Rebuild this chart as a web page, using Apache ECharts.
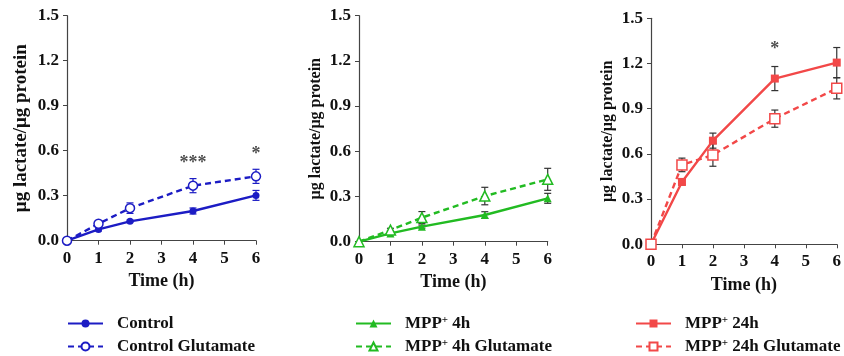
<!DOCTYPE html>
<html><head><meta charset="utf-8">
<script src="https://cdn.jsdelivr.net/npm/echarts@6/dist/echarts.min.js"></script>
<style>html,body{margin:0;padding:0;background:#fff}#c{width:844px;height:356px}</style>
</head><body><div id="c"></div>
<script>
const times = [0, 1, 2, 4, 6];
const yTicks = [0.0, 0.3, 0.6, 0.9, 1.2, 1.5];
const xTicks = [0, 1, 2, 3, 4, 5, 6];

const controlMean = [0, 0.075, 0.129, 0.198, 0.302];
const controlErr  = [0, 0.010, 0.008, 0.020, 0.033];
const controlGluMean = [0, 0.113, 0.217, 0.367, 0.429];
const controlGluErr  = [0, 0.020, 0.035, 0.047, 0.047];

const mpp4Mean = [0, 0.055, 0.100, 0.177, 0.288];
const mpp4Err  = [0, 0.008, 0.010, 0.022, 0.033];
const mpp4GluMean = [0, 0.077, 0.160, 0.303, 0.414];
const mpp4GluErr  = [0, 0.012, 0.040, 0.058, 0.073];

const mpp24Mean = [0, 0.414, 0.688, 1.100, 1.206];
const mpp24Err  = [0, 0.020, 0.050, 0.080, 0.100];
const mpp24GluMean = [0, 0.527, 0.593, 0.834, 1.035];
const mpp24GluErr  = [0, 0.045, 0.075, 0.057, 0.070];

const sig1 = [[4, 0.515, '***'], [6, 0.578, '*']];
const sig3 = [[4, 1.294, '*']];

const names = ['Control', 'Control Glutamate', 'MPP+ 4h', 'MPP+ 4h Glutamate', 'MPP+ 24h', 'MPP+ 24h Glutamate'];

const BLUE = '#1c1cc4', GREEN = '#22bb22', RED = '#f24848';
const FONT = 'Liberation Serif';

function pts(m) { return times.map((t, i) => [t, m[i]]); }
function errData(m, e) { return times.map((t, i) => [t, m[i] - e[i], m[i] + e[i]]).filter(d => d[2] - d[1] > 0); }

function errSeries(idx, m, e, color) {
  return {
    type: 'custom', xAxisIndex: idx, yAxisIndex: idx, z: 1, silent: true,
    data: errData(m, e),
    renderItem: function (params, api) {
      const x = api.value(0);
      const lo = api.coord([x, api.value(1)]);
      const hi = api.coord([x, api.value(2)]);
      const w = 3.5;
      const style = { stroke: color, lineWidth: 1.2 };
      return { type: 'group', children: [
        { type: 'line', shape: { x1: lo[0], y1: lo[1], x2: hi[0], y2: hi[1] }, style: style },
        { type: 'line', shape: { x1: lo[0] - w, y1: lo[1], x2: lo[0] + w, y2: lo[1] }, style: style },
        { type: 'line', shape: { x1: hi[0] - w, y1: hi[1], x2: hi[0] + w, y2: hi[1] }, style: style }
      ]};
    }
  };
}

function lineSeries(idx, name, m, color, symbol, size, hollow) {
  return {
    type: 'line', name: name, xAxisIndex: idx, yAxisIndex: idx, z: 3,
    data: pts(m), symbol: symbol, symbolSize: size, showSymbol: true,
    lineStyle: { color: color, width: 2.4, type: hollow ? [6, 4] : 'solid' },
    itemStyle: { color: hollow ? '#fff' : color, borderColor: color, borderWidth: hollow ? 1.5 : 0 },
    emphasis: { disabled: true }, animation: false
  };
}

function sigSeries(idx, arr) {
  return {
    type: 'scatter', xAxisIndex: idx, yAxisIndex: idx, symbolSize: 0, z: 4,
    data: arr.map(d => ({ value: [d[0], d[1]], label: { formatter: d[2] } })),
    label: { show: true, position: 'inside', color: '#222', fontFamily: FONT, fontSize: 18, fontWeight: 'bold' },
    animation: false
  };
}

const grids = [
  { left: 67, right: 588, top: 15.7, bottom: 115.3 },
  { left: 359, right: 296.3, top: 15.7, bottom: 114.3 },
  { left: 651, right: 4, top: 18.3, bottom: 111.7 }
];

const axisLine = { show: true, lineStyle: { color: '#444', width: 1.2 } };
const axisTick = { show: true, length: 4, lineStyle: { color: '#444' } };
const labelStyle = { color: '#111', fontFamily: FONT, fontWeight: 'bold', fontSize: 17 };

const xAxes = grids.map((g, i) => ({
  type: 'value', gridIndex: i, min: xTicks[0], max: xTicks[xTicks.length - 1], interval: 1,
  axisLine: axisLine, axisTick: axisTick, splitLine: { show: false },
  axisLabel: Object.assign({ margin: 9 }, labelStyle),
  name: 'Time (h)', nameLocation: 'middle', nameGap: 32,
  nameTextStyle: { color: '#111', fontFamily: FONT, fontWeight: 'bold', fontSize: 18 }
}));
const yAxes = grids.map((g, i) => ({
  type: 'value', gridIndex: i, min: yTicks[0], max: yTicks[yTicks.length - 1], interval: 0.3,
  axisLine: axisLine, axisTick: axisTick, splitLine: { show: false },
  axisLabel: Object.assign({ margin: 8, formatter: v => v.toFixed(1) }, labelStyle),
  name: 'μg lactate/μg protein', nameLocation: 'middle', nameGap: i === 0 ? 36 : 35, nameRotate: 90,
  nameTextStyle: { color: '#111', fontFamily: FONT, fontWeight: 'bold', fontSize: i === 0 ? 19 : 16 }
}));

function legendFmt(n) { return n.replace('MPP+', 'MPP{s|+}'); }
const legendText = {
  color: '#111', fontFamily: FONT, fontWeight: 'bold', fontSize: 17, lineHeight: 17,
  padding: [0, 0, 0, 9],
  rich: { s: { fontFamily: FONT, fontWeight: 'bold', fontSize: 11, lineHeight: 17, verticalAlign: 'top', padding: [0, 0, 6, 0] } }
};
function legend(left, data) {
  return { orient: 'vertical', left: left, top: 315, padding: 0, height: 60, itemGap: 6, itemWidth: 35, itemHeight: 10,
    data: data, formatter: legendFmt, textStyle: legendText, selectedMode: false };
}

const option = {
  animation: false,
  grid: grids,
  xAxis: xAxes,
  yAxis: yAxes,
  legend: [legend(67, names.slice(0, 2)), legend(355, names.slice(2, 4)), legend(635, names.slice(4, 6))],
  series: [
    errSeries(0, controlMean, controlErr, BLUE),
    errSeries(0, controlGluMean, controlGluErr, BLUE),
    lineSeries(0, names[0], controlMean, BLUE, 'circle', 7, false),
    lineSeries(0, names[1], controlGluMean, BLUE, 'circle', 9, true),
    sigSeries(0, sig1),
    errSeries(1, mpp4Mean, mpp4Err, '#333'),
    errSeries(1, mpp4GluMean, mpp4GluErr, '#333'),
    lineSeries(1, names[2], mpp4Mean, GREEN, 'triangle', 8, false),
    lineSeries(1, names[3], mpp4GluMean, GREEN, 'triangle', 10, true),
    errSeries(2, mpp24Mean, mpp24Err, '#333'),
    errSeries(2, mpp24GluMean, mpp24GluErr, '#333'),
    lineSeries(2, names[4], mpp24Mean, RED, 'rect', 8, false),
    lineSeries(2, names[5], mpp24GluMean, RED, 'rect', 10, true),
    sigSeries(2, sig3)
  ]
};
const chart = echarts.init(document.getElementById('c'), null, { renderer: 'canvas' });
chart.setOption(option);
</script></body></html>
